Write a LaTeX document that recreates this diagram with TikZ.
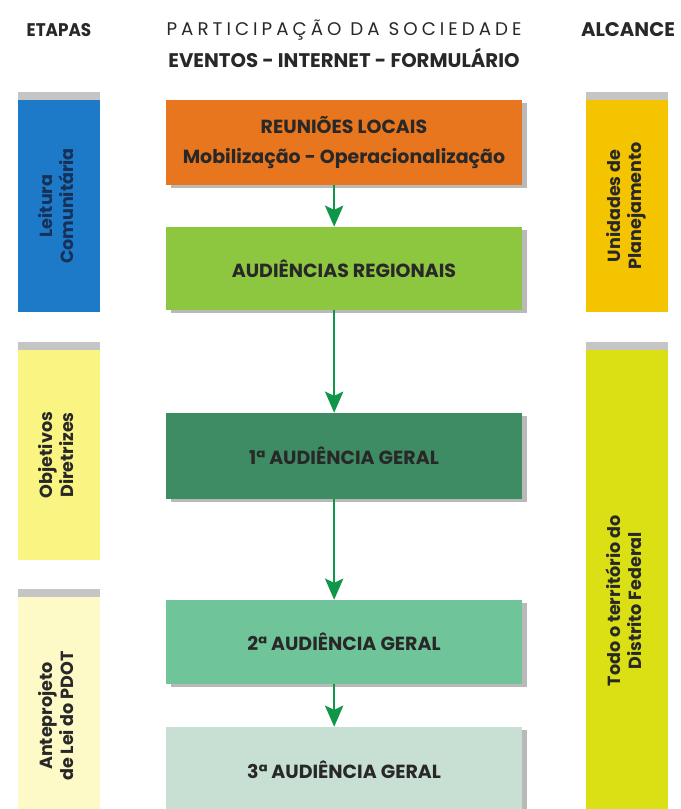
\documentclass[tikz,border=0pt]{standalone}
\usepackage{fontspec}
\setmainfont{Poppins}
\newfontfamily\narrowfont{Poppins}[FakeStretch=0.92]
\newfontfamily\spacedfont{Poppins}[LetterSpace=22]
\usepackage{graphicx}
\usetikzlibrary{arrows.meta,shadows}

\definecolor{inkgray}{RGB}{40,40,40}
\definecolor{inknavy}{RGB}{22,48,88}
\definecolor{leiturablue}{RGB}{28,122,200}
\definecolor{objyellow}{RGB}{250,244,130}
\definecolor{antepale}{RGB}{253,250,200}
\definecolor{unigold}{RGB}{245,196,0}
\definecolor{todolime}{RGB}{218,224,20}
\definecolor{reuorange}{RGB}{232,118,30}
\definecolor{reggreen}{RGB}{141,198,63}
\definecolor{geraldark}{RGB}{62,140,100}
\definecolor{geralmid}{RGB}{112,196,154}
\definecolor{geralpale}{RGB}{199,224,211}
\definecolor{arrowgreen}{RGB}{16,150,72}

\newcommand{\sidetext}[2]{\rotatebox{90}{\begin{tabular}{@{}c@{}}#1\\#2\end{tabular}}}

\begin{document}
\begin{tikzpicture}[x=0.025cm, y=-0.025cm,
  head/.style={font=\narrowfont\bfseries\fontsize{13}{15}\selectfont, text=inkgray},
  stagebox/.style={rectangle, minimum width=8.9cm, text=inkgray,
    font=\bfseries\fontsize{13.5}{21}\selectfont, align=center,
    drop shadow={shadow xshift=3.5pt, shadow yshift=-2pt, opacity=0.55}},
  sidebox/.style={rectangle, minimum width=2.05cm, text=inkgray,
    font=\bfseries\fontsize{12.5}{15}\selectfont,
    drop shadow={shadow xshift=0pt, shadow yshift=5.5pt, opacity=0.45}},
  flow/.style={arrowgreen, line width=1.6pt,
    -{Stealth[width=13pt,length=15pt,inset=3pt,fill=arrowgreen]}}]
  \useasboundingbox[fill=white] (0,0) rectangle (680,809);

  % headers
  \node[head] (etapas) at (59,30) {ETAPAS};
  \node[head, font=\spacedfont\fontsize{13}{15}\selectfont] (participacao) at (344,30) {PARTICIPAÇÃO DA SOCIEDADE};
  \node[head, font=\bfseries\fontsize{14}{16}\selectfont] (meios) at (344,58) {EVENTOS - INTERNET - FORMULÁRIO};
  \node[head, font=\bfseries\fontsize{14}{16}\selectfont] (alcance) at (628,30) {ALCANCE};

  % etapas
  \node[sidebox, fill=leiturablue, text=inknavy, minimum height=5.3cm] (leitura) at (59,206) {\sidetext{Leitura}{Comunitária}};
  \node[sidebox, fill=objyellow, minimum height=5.25cm] (objetivos) at (59,455) {\sidetext{Objetivos}{Diretrizes}};
  \node[sidebox, fill=antepale, minimum height=5.95cm] (anteprojeto) at (59,716) {\sidetext{Anteprojeto}{de Lei do PDOT}};

  % alcance
  \node[sidebox, fill=unigold, minimum height=5.3cm] (unidades) at (627,206) {\sidetext{Unidades de}{Planejamento}};
  \node[sidebox, fill=todolime, minimum height=12.55cm] (territorio) at (627,601) {\sidetext{Todo o território do}{Distrito Federal}};

  % participacao
  \node[stagebox, fill=reuorange, minimum height=2.125cm] (reunioes) at (344,142.5)
    {REUNIÕES LOCAIS\\Mobilização - Operacionalização};
  \node[stagebox, fill=reggreen, minimum height=2.075cm] (regionais) at (344,268.5) {AUDIÊNCIAS REGIONAIS};
  \node[stagebox, fill=geraldark, minimum height=2.15cm] (geral1) at (344,456) {1ª AUDIÊNCIA GERAL};
  \node[stagebox, fill=geralmid, minimum height=2.1cm] (geral2) at (344,642) {2ª AUDIÊNCIA GERAL};
  \node[stagebox, fill=geralpale, minimum height=2.15cm] (geral3) at (344,770) {3ª AUDIÊNCIA GERAL};

  \path[flow]
    ([xshift=-7pt]reunioes.south) edge ([xshift=-7pt]regionais.north)
    ([xshift=-7pt]regionais.south) edge ([xshift=-7pt]geral1.north)
    ([xshift=-7pt]geral1.south) edge ([xshift=-7pt]geral2.north)
    ([xshift=-7pt]geral2.south) edge ([xshift=-7pt]geral3.north);
\end{tikzpicture}
\end{document}
